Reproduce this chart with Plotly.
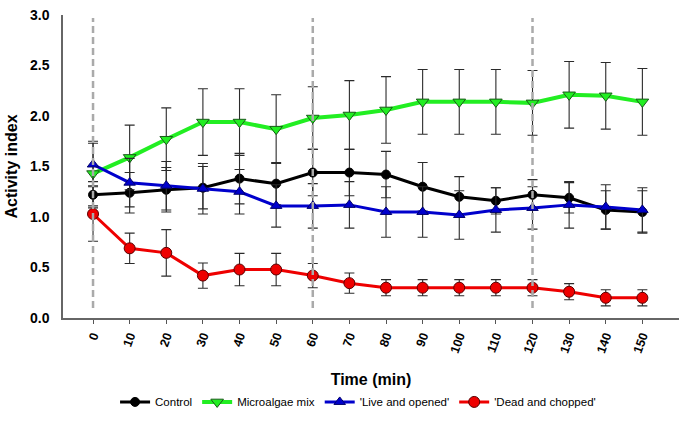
import plotly.graph_objects as go

# ---- data ----
time_min = [0, 10, 20, 30, 40, 50, 60, 70, 80, 90, 100, 110, 120, 130, 140, 150]
tick_labels = [str(t) for t in time_min]

control = [1.22, 1.24, 1.27, 1.29, 1.38, 1.33, 1.44, 1.44, 1.42, 1.30, 1.20, 1.16, 1.22, 1.19, 1.07, 1.05]
control_err = [0.13, 0.20, 0.22, 0.21, 0.25, 0.21, 0.23, 0.23, 0.23, 0.24, 0.20, 0.13, 0.15, 0.15, 0.19, 0.21]

microalgae = [1.43, 1.59, 1.77, 1.94, 1.94, 1.87, 1.98, 2.01, 2.06, 2.14, 2.14, 2.14, 2.13, 2.21, 2.20, 2.14]
microalgae_err = [0.32, 0.32, 0.31, 0.33, 0.33, 0.34, 0.31, 0.34, 0.33, 0.32, 0.32, 0.32, 0.32, 0.33, 0.33, 0.33]

live_opened = [1.52, 1.34, 1.31, 1.28, 1.25, 1.11, 1.11, 1.12, 1.05, 1.05, 1.02, 1.07, 1.09, 1.12, 1.10, 1.07]
live_opened_err = [0.21, 0.24, 0.24, 0.25, 0.22, 0.21, 0.22, 0.23, 0.25, 0.25, 0.24, 0.22, 0.21, 0.23, 0.22, 0.22]

dead_chopped = [1.03, 0.69, 0.645, 0.42, 0.48, 0.48, 0.42, 0.345, 0.30, 0.30, 0.30, 0.30, 0.30, 0.26, 0.20, 0.20]
dead_chopped_err = [0.27, 0.15, 0.23, 0.125, 0.16, 0.16, 0.12, 0.10, 0.08, 0.08, 0.08, 0.08, 0.08, 0.08, 0.08, 0.08]

y_ticks = [0, 0.5, 1.0, 1.5, 2.0, 2.5, 3.0]
y_tick_labels = ["0.0", "0.5", "1.0", "1.5", "2.0", "2.5", "3.0"]

phase_marks = [0, 60, 120]
phase_span = [0.1, 2.97]

FONT = "Arial, Liberation Sans, sans-serif"
ERR_COLOR = "#2b2b2b"

series = [
    ("Control", control, control_err, "#000000", "circle", 9, 3, "#000000"),
    ("Microalgae mix", microalgae, microalgae_err, "#22ee22", "triangle-down", 11, 4, "#1a5a1a"),
    ("'Live and opened'", live_opened, live_opened_err, "#0000cc", "triangle-up", 10, 3, "#00006a"),
    ("'Dead and chopped'", dead_chopped, dead_chopped_err, "#ee0000", "circle", 11, 3, "#5a0000"),
]

fig = go.Figure()
for name, vals, errs, color, sym, msize, lw, edge in series:
    fig.add_trace(go.Scatter(
        x=time_min, y=vals, name=name, mode="lines+markers",
        line=dict(color=color, width=lw),
        marker=dict(symbol=sym, size=msize, color=color, line=dict(color=edge, width=1)),
        error_y=dict(type="data", array=errs, visible=True, color=ERR_COLOR, thickness=1.1, width=5),
    ))

for xm in phase_marks:
    fig.add_shape(type="line", x0=xm, x1=xm, y0=phase_span[0], y1=phase_span[1],
                  xref="x", yref="y", layer="above",
                  line=dict(color="#aaaaaa", width=2.5, dash="7px,4px"))

fig.update_layout(
    width=685, height=423,
    margin=dict(l=63, r=6, t=15, b=101),
    paper_bgcolor="white", plot_bgcolor="white",
    font=dict(family=FONT, color="#000000"),
    showlegend=True,
    legend=dict(orientation="h", x=0.479, xanchor="center", y=-0.277, yanchor="middle",
                font=dict(size=11.5, family=FONT), itemwidth=30, tracegroupgap=0,
                bgcolor="rgba(0,0,0,0)"),
    xaxis=dict(
        range=[-8.2, 160], tickmode="array", tickvals=time_min, ticktext=tick_labels,
        tickangle=-70, tickfont=dict(size=12.5, family=FONT, color="#000000", weight="bold"),
        ticks="outside", ticklen=4, tickcolor="#555555", tickwidth=1.2,
        showline=True, linecolor="#666666", linewidth=1.5, showgrid=False, zeroline=False,
        title=dict(text="<b>Time (min)</b>", font=dict(size=16, family=FONT), standoff=20),
    ),
    yaxis=dict(
        range=[0, 3], tickmode="array", tickvals=y_ticks, ticktext=y_tick_labels,
        tickfont=dict(size=14, family=FONT, color="#000000", weight="bold"),
        ticks="", ticklabelstandoff=9, showline=True, linecolor="#666666", linewidth=1.5,
        showgrid=False, zeroline=False,
        title=dict(text="<b>Activity index</b>", font=dict(size=16, family=FONT), standoff=8),
    ),
)

fig.write_html("out.html")
